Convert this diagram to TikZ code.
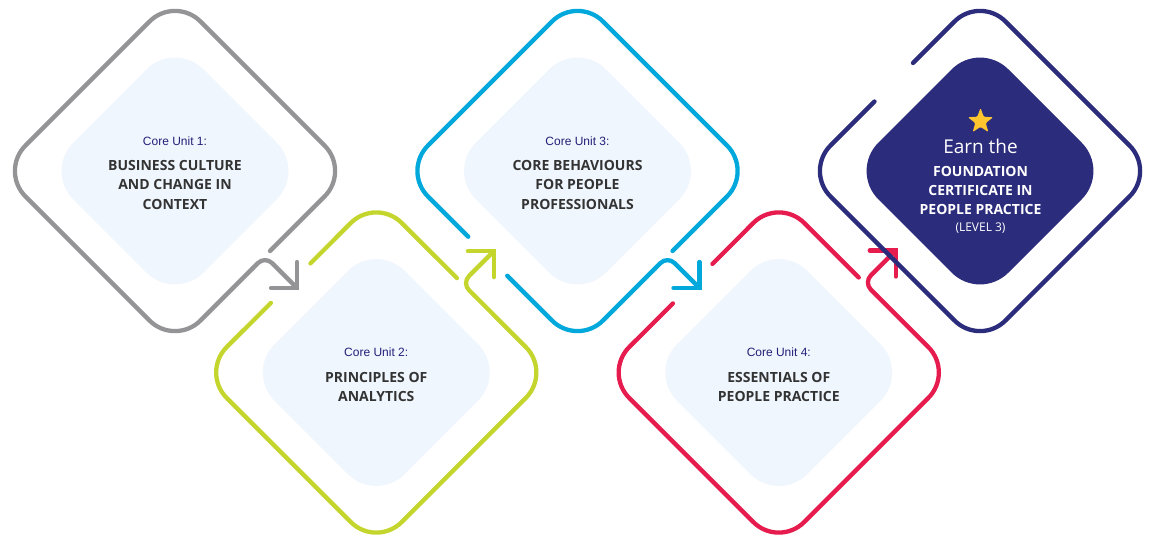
\documentclass[tikz,border=0pt]{standalone}
\usepackage{fontspec}
\setmainfont{Open Sans}
\newfontfamily\arialf{Liberation Sans}
\usetikzlibrary{shapes.geometric}
\definecolor{cgray}{RGB}{148,148,150}
\definecolor{cgreen}{RGB}{196,214,46}
\definecolor{cblue}{RGB}{0,168,219}
\definecolor{cred}{RGB}{230,28,78}
\definecolor{cnavy}{RGB}{43,44,123}
\definecolor{cfill}{RGB}{240,246,253}
\definecolor{cunit}{RGB}{38,30,120}
\definecolor{ctitle}{RGB}{51,51,51}
\definecolor{cstar}{RGB}{254,197,46}
\begin{document}
\begin{tikzpicture}[x=1pt,y=-1pt,
  outline/.style={line width=4.3pt, line cap=round, line join=round, rounded corners=36pt},
  bendline/.style={line width=4.3pt, line cap=round, line join=round, rounded corners=10pt},
  headline/.style={line width=4.3pt, line cap=round, line join=miter},
  innerbox/.style={rounded corners=40pt},
  unit/.style={font=\arialf\fontsize{12}{14}\selectfont, text=cunit, anchor=base, inner sep=0pt},
  title/.style={font=\bfseries\fontsize{14}{16}\selectfont, text=ctitle, anchor=base, inner sep=0pt},
  wtitle/.style={font=\bfseries\fontsize{14}{16}\selectfont, text=white, anchor=base, inner sep=0pt}
]
\useasboundingbox (0,0) rectangle (1155,546);
\fill[white] (0,0) rectangle (1155,546);

% inner panels
\fill[cfill, innerbox] (305,171) -- (175,301) -- (45,171) -- (175,41) -- cycle;
\fill[cfill, innerbox] (506.25,372.5) -- (376.25,502.5) -- (246.25,372.5) -- (376.25,242.5) -- cycle;
\fill[cfill, innerbox] (707.5,171) -- (577.5,301) -- (447.5,171) -- (577.5,41) -- cycle;
\fill[cfill, innerbox] (908.75,372.5) -- (778.75,502.5) -- (648.75,372.5) -- (778.75,242.5) -- cycle;
\fill[cnavy, innerbox] (1110,171) -- (980,301) -- (850,171) -- (980,41) -- cycle;

% gray
\draw[outline, cgray] (270,251) -- (350,171) -- (175,-4) -- (0,171) -- (175,346) -- (252.5,268.5);
\draw[bendline, cgray] (252.5,268.5) -- (265,256) -- (297,288);
\draw[headline, cgray] (271,288) -- (297,288) -- (297,262);

% green
\draw[outline, cgreen] (310.4,263.4) -- (376.25,197.5) -- (456.9,278.1);
\draw[outline, cgreen] (270.9,302.9) -- (201.25,372.5) -- (376.25,547.5) -- (551.25,372.5) -- (474.4,295.6);
\draw[bendline, cgreen] (474.4,295.6) -- (461.9,283.1) -- (493.9,251.1);
\draw[headline, cgreen] (467.9,251.1) -- (493.9,251.1) -- (493.9,277.1);

% blue
\draw[outline, cblue] (672.5,251) -- (752.5,171) -- (577.5,-4) -- (402.5,171) -- (468.25,236.75);
\draw[outline, cblue] (507.25,275.75) -- (577.5,346) -- (655,268.5);
\draw[bendline, cblue] (655,268.5) -- (667.5,256) -- (699.5,288);
\draw[headline, cblue] (673.5,288) -- (699.5,288) -- (699.5,262);

% red
\draw[outline, cred] (712.4,263.9) -- (778.75,197.5) -- (858.75,277.5);
\draw[outline, cred] (672.9,303.4) -- (603.75,372.5) -- (778.75,547.5) -- (953.75,372.5) -- (876.25,295);
\draw[bendline, cred] (876.25,295) -- (863.75,282.5) -- (895.75,250.5);
\draw[headline, cred] (869.75,250.5) -- (895.75,250.5) -- (895.75,276.5);

% navy
\draw[outline, cnavy] (913,63) -- (980,-4) -- (1155,171) -- (980,346) -- (805,171) -- (874.5,101.5);

% texts unit 1
\node[unit] (u1) at (175,145.5) {Core Unit 1:};
\node[title] (t1a) at (175,170) {BUSINESS CULTURE};
\node[title] (t1b) at (175,189.5) {AND CHANGE IN};
\node[title] (t1c) at (175,209) {CONTEXT};
% unit 2
\node[unit] (u2) at (376.25,356) {Core Unit 2:};
\node[title] (t2a) at (376.25,382) {PRINCIPLES OF};
\node[title] (t2b) at (376.25,401) {ANALYTICS};
% unit 3
\node[unit] (u3) at (577.5,145.5) {Core Unit 3:};
\node[title] (t3a) at (577.5,170) {CORE BEHAVIOURS};
\node[title] (t3b) at (577.5,189.5) {FOR PEOPLE};
\node[title] (t3c) at (577.5,209) {PROFESSIONALS};
% unit 4
\node[unit] (u4) at (778.75,356) {Core Unit 4:};
\node[title] (t4a) at (778.75,382) {ESSENTIALS OF};
\node[title] (t4b) at (778.75,401) {PEOPLE PRACTICE};
% certificate
\node[star, star points=5, star point ratio=2.4, fill=cstar, minimum size=26.6pt, inner sep=0pt, rounded corners=1.2pt] (star) at (980.5,121.3) {};
\node[font=\fontsize{19}{22}\selectfont, text=white, anchor=base, inner sep=0pt] (earn) at (980.5,153) {Earn the};
\node[wtitle] (c1) at (980.5,176) {FOUNDATION};
\node[wtitle] (c2) at (980.5,195) {CERTIFICATE IN};
\node[wtitle] (c3) at (980.5,214) {PEOPLE PRACTICE};
\node[font=\fontsize{12}{14}\selectfont, text=white, anchor=base, inner sep=0pt] (lvl) at (980.5,231) {(LEVEL 3)};
\end{tikzpicture}
\end{document}
